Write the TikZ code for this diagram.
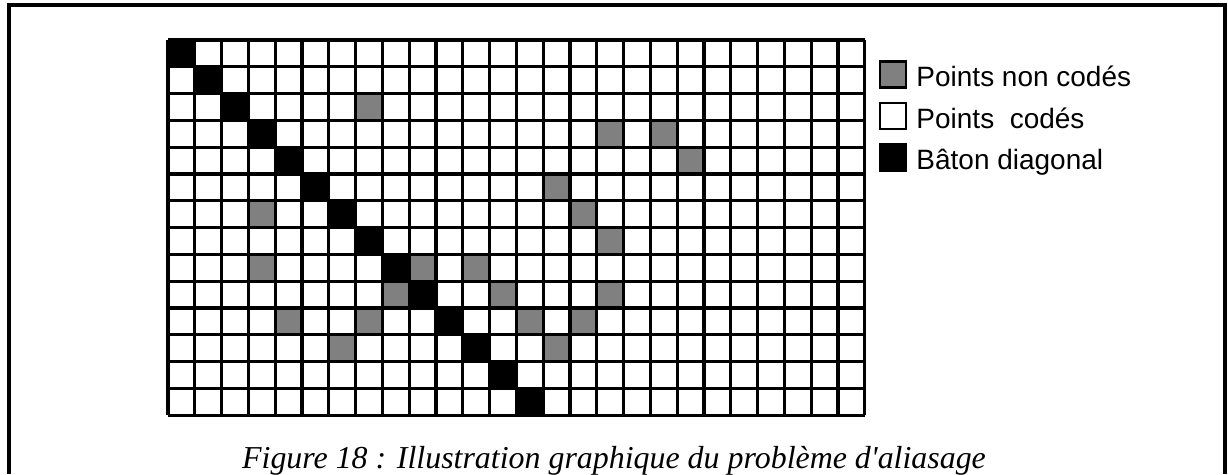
\documentclass[tikz,border=0pt]{standalone}
\usepackage{fontspec}
\setmainfont{Liberation Serif}
\newfontfamily\legendfont{Liberation Sans}
\newfontfamily\capfont{Liberation Serif}
\usetikzlibrary{positioning}
\definecolor{speckle}{gray}{0.5}
\tikzset{
  gridline/.style={line width=0.8mm},
  legsq/.style={draw,line width=0.6mm,minimum size=6.5mm,inner sep=0pt},
  legtext/.style={anchor=base west,inner sep=0pt,font=\legendfont\fontsize{19.9pt}{24pt}\selectfont}
}
\begin{document}
\begin{tikzpicture}[x=0.25mm,y=-0.25mm]
    \useasboundingbox (0,0) rectangle (1228,474);
    \draw[line width=0.9mm] (9,474) -- (9,5) -- (1225,5) -- (1225,474);
    \foreach \r/\c in {2/7,3/16,3/18,4/19,5/14,6/3,6/15,7/16,8/3,8/9,8/11,9/8,9/12,9/16,10/4,10/7,10/13,10/15,11/6,11/14} {
      \fill[speckle] ({168+\c*26.8},{40+\r*26.8}) rectangle ++(26.8,26.8);
    }
    \foreach \r in {0,...,13} {
      \fill ({168+\r*26.8},{40+\r*26.8}) rectangle ++(26.8,26.8);
    }
    \foreach \c in {0,...,26} {
      \draw[gridline] ({168+\c*26.8},40) -- ({168+\c*26.8},415.2);
    }
    \foreach \r in {0,...,14} {
      \draw[gridline] (168,{40+\r*26.8}) -- (864.8,{40+\r*26.8});
    }
    \node[legsq,fill=speckle] (kgray) at (893,74.5) {};
    \node[legsq,fill=white,below=3.25mm of kgray] (kwhite) {};
    \node[legsq,fill=black,below=3.25mm of kwhite] (kblack) {};
    \node[legtext] (tgray) at ([xshift=2.25mm,yshift=0.5mm]kgray.south east) {Points non codés};
    \node[legtext] (twhite) at ([xshift=2.25mm,yshift=0.5mm]kwhite.south east) {Points\ \ codés};
    \node[legtext] (tblack) at ([xshift=2.25mm,yshift=0.5mm]kblack.south east) {Bâton diagonal};
    \node[anchor=base,inner sep=0pt,font=\capfont\itshape\fontsize{22.7pt}{26pt}\selectfont] (caption) at (614,468)
      {Figure 18 : Illustration graphique du problème d'aliasage};
\end{tikzpicture}
\end{document}
